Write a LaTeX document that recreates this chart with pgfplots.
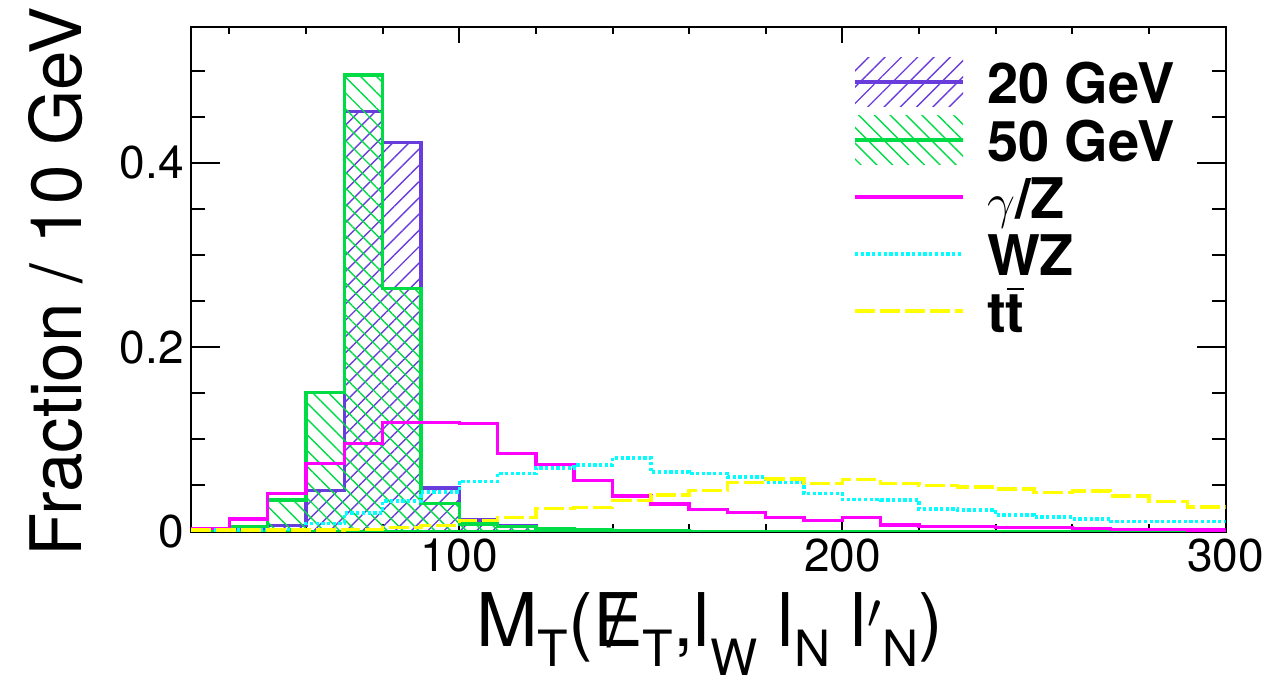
\documentclass[border=0pt]{standalone}
\usepackage{fontspec}
\setmainfont{TeX Gyre Heros}
\usepackage{pgfplots}
\usepackage{pgfplotstable}
\pgfplotsset{compat=1.18}
\usetikzlibrary{patterns.meta}
\definecolor{c20}{RGB}{105,60,220}
\definecolor{c50}{RGB}{0,220,70}
\definecolor{cgz}{RGB}{255,0,255}
\definecolor{cwz}{RGB}{0,255,255}
\definecolor{ctt}{RGB}{255,255,0}
\newcommand{\lsub}[2][0.27]{\raisebox{-#1em}{\fontsize{25}{25}\selectfont #2}}
\newcommand{\legrule}{\rule[-7pt]{0pt}{30pt}}

\pgfplotstableread{
x   h20     h50     gz      wz      tt
30  0.0000  0.0000  0.0034  0.0016  0.0015
40  0.0015  0.0055  0.0136  0.0016  0.0015
50  0.0065  0.0340  0.0414  0.0025  0.0015
60  0.0448  0.1506  0.0740  0.0087  0.0015
70  0.4556  0.4954  0.0957  0.0203  0.0022
80  0.4220  0.2640  0.1183  0.0330  0.0041
90  0.0474  0.0304  0.1185  0.0427  0.0067
100 0.0125  0.0081  0.1170  0.0546  0.0117
110 0.0060  0.0052  0.0846  0.0630  0.0150
120 0.0020  0.0034  0.0727  0.0690  0.0252
130 0.0010  0.0015  0.0553  0.0722  0.0262
140 0.0005  0.0008  0.0385  0.0798  0.0334
150 0.0003  0.0005  0.0298  0.0646  0.0396
160 0.0000  0.0003  0.0237  0.0628  0.0443
170 0.0000  0.0000  0.0204  0.0591  0.0530
180 0.0000  0.0000  0.0150  0.0530  0.0570
190 0.0000  0.0000  0.0117  0.0410  0.0519
200 0.0000  0.0000  0.0150  0.0345  0.0562
210 0.0000  0.0000  0.0072  0.0342  0.0521
220 0.0000  0.0000  0.0052  0.0244  0.0497
230 0.0000  0.0000  0.0052  0.0233  0.0483
240 0.0000  0.0000  0.0042  0.0179  0.0461
250 0.0000  0.0000  0.0042  0.0157  0.0421
260 0.0000  0.0000  0.0030  0.0136  0.0440
270 0.0000  0.0000  0.0025  0.0106  0.0385
280 0.0000  0.0000  0.0025  0.0106  0.0324
290 0.0000  0.0000  0.0018  0.0106  0.0266
300 0.0000  0.0000  0.0018  0.0106  0.0266
}\histdata

\begin{document}
\begin{tikzpicture}
\useasboundingbox (-95.5pt,-75.25pt) rectangle (543.5pt,265.75pt);
\pgfplotsset{
  common/.style={
    scale only axis, width=517.3pt, height=252.25pt,
    xmin=30, xmax=300, ymin=0, ymax=0.5475,
    tick align=inside, xtick pos=both, ytick pos=both,
    axis line style={line width=1pt},
    every tick/.append style={line width=1pt, black},
    /pgf/number format/assume math mode=true,
    tick label style={font=\fontsize{23}{23}\selectfont},
  },
}
% axis for the x ticks (shorter ticks)
\begin{axis}[common,
  ytick=\empty,
  xtick={100,200,300},
  minor xtick={40,60,80,120,140,160,180,220,240,260,280},
  major tick length=7.85pt, minor tick length=3.65pt,
]
\end{axis}
% main axis with data and y ticks
\begin{axis}[common,
  xtick=\empty,
  ytick={0,0.2,0.4},
  minor ytick={0.05,0.1,0.15,0.25,0.3,0.35,0.45,0.5},
  major tick length=14.5pt, minor tick length=7pt,
  yticklabel style={inner xsep=3.5pt},
  xlabel={M\lsub{T}(\ooalign{E\cr\hidewidth/\hidewidth\cr}\lsub{T},l\lsub[0.39]{W}\ l\lsub{N}\ l$'$\lsub{N})},
  xlabel style={at={(axis description cs:0.5012,-0.2283)}, anchor=base, inner sep=0pt, font=\fontsize{37}{37}\selectfont},
  ylabel={Fraction / 10 GeV},
  ylabel style={at={(axis description cs:-0.1305,0.4945)}, anchor=center, inner sep=0pt, font=\fontsize{35.5}{36}\selectfont},
  legend style={at={(axis description cs:0.6399,0.9391)}, anchor=north west,
    draw=none, fill=none, inner sep=0pt, outer sep=0pt,
    row sep=4.15pt, column sep=11pt,
    font=\fontsize{28}{28}\selectfont\bfseries,
    nodes={inner sep=0pt, outer sep=0pt}},
  legend cell align=left,
]
\addplot[const plot, draw=c20, line width=1.7pt,
  pattern={Lines[angle=45,distance=5.75pt,line width=0.7pt]}, pattern color=c20,
  legend image code/.code={
    \path[draw=none,pattern={Lines[angle=45,distance=5.75pt,line width=0.7pt]},pattern color=c20] (0pt,-12.25pt) rectangle (54pt,12.25pt);
    \draw[c20,line width=2pt] (0pt,0pt) -- (54pt,0pt);
  }] table[x=x,y=h20] {\histdata} \closedcycle;
\addlegendentry{\legrule 20 GeV}
\addplot[const plot, draw=c50, line width=1.7pt,
  pattern={Lines[angle=-45,distance=5.6pt,line width=0.7pt]}, pattern color=c50,
  legend image code/.code={
    \path[draw=none,pattern={Lines[angle=-45,distance=5.6pt,line width=0.7pt]},pattern color=c50] (0pt,-12.25pt) rectangle (54pt,12.25pt);
    \draw[c50,line width=2pt] (0pt,0pt) -- (54pt,0pt);
  }] table[x=x,y=h50] {\histdata} \closedcycle;
\addlegendentry{\legrule 50 GeV}
\addplot[const plot, draw=cgz, line width=1.7pt,
  legend image code/.code={
    \path[draw=none] (0pt,-12.25pt) rectangle (54pt,12.25pt);
    \draw[cgz,line width=2pt] (0pt,0pt) -- (54pt,0pt);
  }] table[x=x,y=gz] {\histdata};
\addlegendentry{\legrule $\gamma$/Z}
\addplot[const plot, draw=cwz, line width=1.7pt, dash pattern=on 1.65pt off 1.2pt,
  legend image code/.code={
    \path[draw=none] (0pt,-12.25pt) rectangle (54pt,12.25pt);
    \draw[cwz,line width=2pt,dash pattern=on 1.65pt off 1.2pt] (0pt,0pt) -- (54pt,0pt);
  }] table[x=x,y=wz] {\histdata};
\addlegendentry{\legrule WZ}
\addplot[const plot, draw=ctt, line width=1.7pt, dash pattern=on 10pt off 2.5pt,
  legend image code/.code={
    \path[draw=none] (0pt,-12.25pt) rectangle (54pt,12.25pt);
    \draw[ctt,line width=2pt,dash pattern=on 10pt off 2.5pt] (0pt,0pt) -- (54pt,0pt);
  }] table[x=x,y=tt] {\histdata};
\addlegendentry{\legrule t\rlap{\kern0.6pt\raisebox{21.5pt}{\rule{8.5pt}{1pt}}}t}
\end{axis}
\end{tikzpicture}
\end{document}
